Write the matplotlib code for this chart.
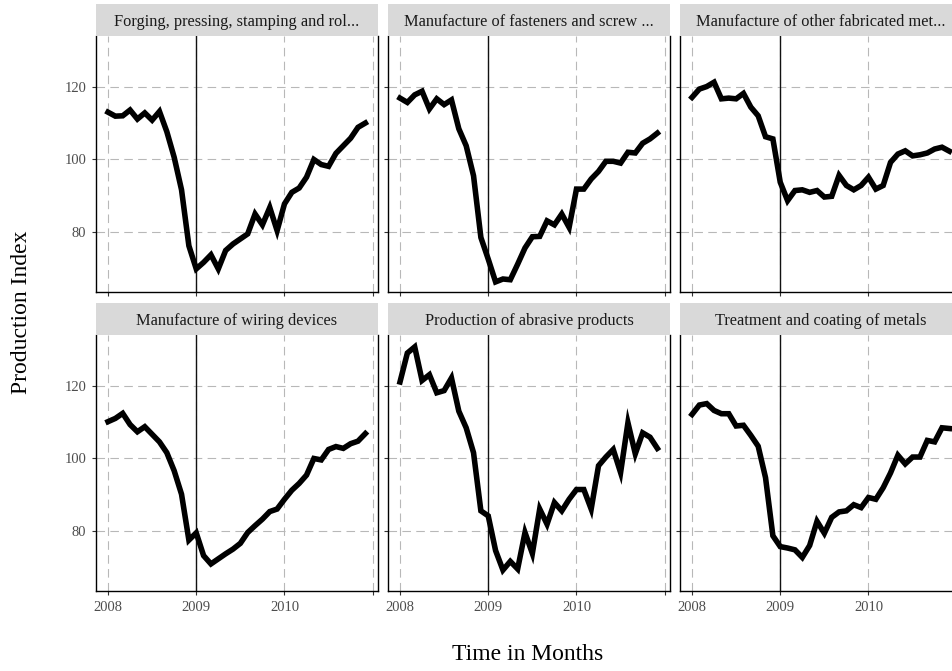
import numpy as np
import matplotlib
matplotlib.use('Agg')
from matplotlib import pyplot as plt

plt.rcParams['font.family'] = ['Liberation Serif', 'DejaVu Serif']

# monthly production index, Jan 2008 .. Dec 2010
months = 2008 + np.arange(36) / 12.0

titles = ['Forging, pressing, stamping and rol...',
          'Manufacture of fasteners and screw ...',
          'Manufacture of other fabricated met...',
          'Manufacture of wiring devices',
          'Production of abrasive products',
          'Treatment and coating of metals']

forging = [113.1, 112.0, 112.1, 113.7, 111.2, 112.9, 110.9, 113.3, 107.7, 100.6, 91.6, 76.1,
           69.7, 71.5, 73.6, 69.7, 74.8, 76.6, 78.0, 79.4, 84.9, 81.9, 86.7, 80.3,
           87.7, 90.9, 92.1, 95.1, 100.0, 98.6, 98.1, 101.7, 103.8, 105.9, 108.9, 110.1]
fasteners = [117.0, 115.8, 117.9, 118.9, 114.0, 116.8, 115.2, 116.5, 108.5, 103.8, 95.5, 78.4,
             72.4, 66.1, 66.9, 66.7, 71.0, 75.5, 78.6, 78.7, 83.0, 81.9, 84.9, 81.2,
             91.8, 91.8, 94.6, 96.7, 99.5, 99.5, 99.0, 102.0, 101.8, 104.5, 105.7, 107.3]
other_fab = [117.2, 119.5, 120.2, 121.4, 116.8, 117.0, 116.8, 118.3, 114.5, 112.1, 106.3, 105.7,
             93.7, 88.6, 91.4, 91.6, 90.9, 91.4, 89.6, 89.8, 95.6, 92.8, 91.6, 92.8,
             95.1, 91.8, 92.8, 99.2, 101.5, 102.4, 101.0, 101.3, 101.8, 102.9, 103.4, 102.3]
wiring = [110.2, 111.1, 112.5, 109.4, 107.4, 108.8, 106.7, 104.6, 101.6, 96.6, 90.1, 77.4,
          79.4, 73.1, 70.8, 72.2, 73.6, 74.9, 76.5, 79.5, 81.4, 83.2, 85.3, 86.0,
          88.7, 91.2, 93.1, 95.4, 100.0, 99.6, 102.5, 103.3, 102.8, 104.1, 104.8, 106.9]
abrasive = [121.2, 129.2, 130.9, 121.6, 123.2, 118.2, 118.8, 122.3, 113.1, 108.5, 101.6, 85.5,
            84.1, 74.5, 69.1, 71.5, 69.4, 79.5, 73.7, 86.0, 81.8, 87.8, 85.5, 88.7,
            91.4, 91.4, 86.0, 98.0, 100.4, 102.5, 96.1, 109.9, 101.3, 107.1, 105.9, 102.8]
treatment = [112.2, 114.8, 115.2, 113.3, 112.4, 112.4, 109.0, 109.2, 106.4, 103.4, 94.7, 78.6,
             75.6, 75.2, 74.7, 72.6, 75.9, 82.6, 79.3, 83.7, 85.2, 85.5, 87.2, 86.4,
             89.2, 88.7, 91.9, 96.0, 100.9, 98.5, 100.4, 100.4, 105.0, 104.6, 108.5, 108.3]

series = [forging, fasteners, other_fab, wiring, abrasive, treatment]

x_breaks = [2008, 2009, 2010, 2011]
x_labels = ['2008', '2009', '2010', '']
y_breaks = [80, 100, 120]

W, H = 952.0, 671.0
fig = plt.figure(figsize=(W / 100, H / 100), dpi=100)

col_left = [96, 388, 680]
panel_w = 282
row_strip_top = [4, 303]
strip_h = 32
panel_h = 256

for k in range(6):
    r, c = divmod(k, 3)
    left = col_left[c]
    top = row_strip_top[r] + strip_h
    ax = fig.add_axes([left / W, 1 - (top + panel_h) / H, panel_w / W, panel_h / H])
    sax = fig.add_axes([left / W, 1 - top / H, panel_w / W, strip_h / H])
    sax.set_facecolor('#d9d9d9')
    sax.set_xticks([]), sax.set_yticks([])
    for s in sax.spines.values():
        s.set_visible(False)
    sax.text(0.5, 0.45, titles[k], ha='center', va='center', fontsize=11.8, color='#1a1a1a',
             transform=sax.transAxes)

    ax.grid(True, color='#b8b8b8', linestyle=(0, (7.7, 4.8)), linewidth=0.8)
    ax.set_axisbelow(True)
    ax.axvline(2009, color='#111111', linewidth=1.0, zorder=2)
    ax.plot(months, series[k], color='black', linewidth=4.0, solid_joinstyle='miter', zorder=3)

    ax.set_xlim(2007.864, 2011.06)
    ax.set_ylim(63.3, 134.2)
    ax.set_xticks(x_breaks)
    ax.set_yticks(y_breaks)
    ax.spines['top'].set_visible(False)
    for s in ['left', 'bottom', 'right']:
        ax.spines[s].set_color('black')
        ax.spines[s].set_linewidth(1.0)
    ax.tick_params(length=3, width=0.8, color='#333333', labelsize=10.5, labelcolor='#4d4d4d', pad=4)
    if r == 1:
        ax.set_xticklabels(x_labels)
    else:
        ax.tick_params(axis='x', labelbottom=False)
    if c == 0:
        ax.set_yticklabels([str(v) for v in y_breaks])
    else:
        ax.tick_params(axis='y', labelleft=False)

fig.text(528 / W, 1 - 655 / H, 'Time in Months', ha='center', va='center', fontsize=17)
fig.text(22 / W, 1 - 312 / H, 'Production Index', ha='center', va='center', fontsize=17, rotation=90)

fig.savefig('out.png', dpi=100)
